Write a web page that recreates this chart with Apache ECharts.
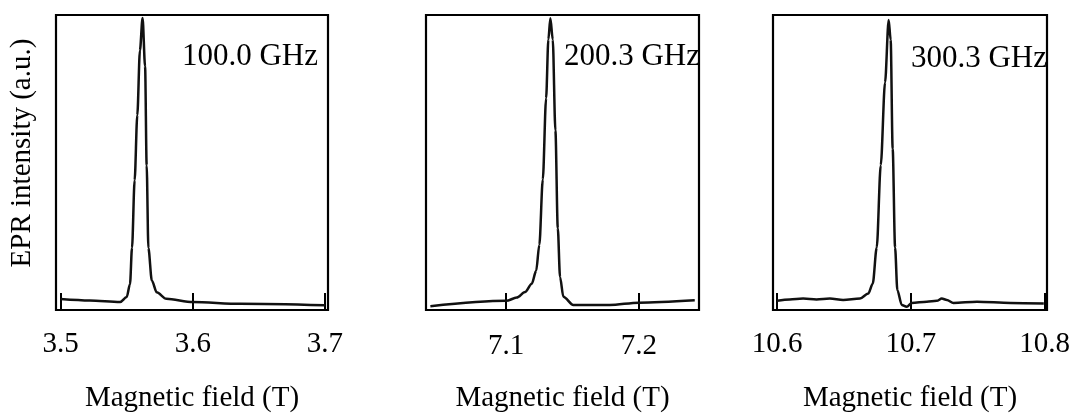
<!DOCTYPE html>
<html>
<head>
<meta charset="utf-8">
<script src="https://cdn.jsdelivr.net/npm/echarts@6/dist/echarts.min.js"></script>
<style>
html,body{margin:0;padding:0;background:#fff;}
#chart{width:1075px;height:418px;}
</style>
</head>
<body>
<div id="chart"></div>
<script>
// ---- Data ----
var field1 = [3.500, 3.522, 3.545, 3.550, 3.5525, 3.554, 3.556, 3.558, 3.560, 3.562, 3.5639, 3.5651, 3.5664, 3.569, 3.5727, 3.580, 3.600, 3.636, 3.700];
var intensity1 = [3.7, 3.2, 2.7, 4.4, 8.8, 21, 44, 66, 88, 99, 82.6, 49, 21, 10, 6, 3.8, 2.7, 2.1, 1.6];

var field2 = [7.0429, 7.100, 7.108, 7.1143, 7.1193, 7.1226, 7.1250, 7.1276, 7.1301, 7.1318, 7.1333, 7.1351, 7.1371, 7.1389, 7.1406, 7.1431, 7.1506, 7.178, 7.200, 7.2421];
var intensity2 = [1.3, 3.1, 4.2, 6.1, 8.9, 13.3, 22.1, 44.2, 71.8, 91.7, 98.9, 91.7, 60.9, 27.7, 11.2, 4.5, 1.7, 1.7, 2.5, 3.3];

var field3 = [10.600, 10.6095, 10.6195, 10.6295, 10.6395, 10.6494, 10.662, 10.6682, 10.6715, 10.6745, 10.6775, 10.6807, 10.6834, 10.6849, 10.6864, 10.6882, 10.6899, 10.6932, 10.6969, 10.7007, 10.7119, 10.7194, 10.7231, 10.7269, 10.7318, 10.7494, 10.7743, 10.7993];
var intensity3 = [3.1, 3.6, 3.9, 3.6, 3.9, 3.4, 3.9, 5.6, 8.9, 21.2, 49.1, 77.1, 98.3, 91.6, 54.7, 21.2, 6.7, 1.7, 1.1, 2.4, 2.8, 3.1, 3.9, 3.4, 2.4, 2.8, 2.4, 2.2];

var ticks1 = [3.5, 3.6, 3.7];
var ticks2 = [7.1, 7.2];
var ticks3 = [10.6, 10.7, 10.8];

var freqLabels = ['100.0 GHz', '200.3 GHz', '300.3 GHz'];
var xTitle = 'Magnetic field (T)';
var yTitle = 'EPR intensity (a.u.)';

// ---- Chart ----
var FONT = 'Liberation Serif';
var chart = echarts.init(document.getElementById('chart'), null, {renderer: 'canvas'});

var grids = [
  {left: 56, top: 15, width: 272, height: 298},
  {left: 426, top: 15, width: 273, height: 302},
  {left: 773, top: 15, width: 274, height: 298}
];
var ranges = [[3.4965, 3.7023], [7.0396, 7.2453], [10.597, 10.8017]];
var tickSets = [ticks1, ticks2, ticks3];
var fields = [field1, field2, field3];
var intensities = [intensity1, intensity2, intensity3];
var nameGaps = [74, 74, 74];
var labelMargins = [20, 22, 20];

function pairs(xs, ys) { return xs.map(function (x, i) { return [x, ys[i]]; }); }

var option = {
  animation: false,
  backgroundColor: '#fff',
  grid: grids.map(function (g) {
    return Object.assign({show: true, borderColor: '#000', borderWidth: 2.2, backgroundColor: 'transparent'}, g);
  }),
  xAxis: grids.map(function (g, i) {
    return {
      type: 'value', gridIndex: i,
      min: ranges[i][0], max: ranges[i][1],
      name: xTitle, nameLocation: 'middle', nameGap: nameGaps[i],
      nameTextStyle: {fontFamily: FONT, fontSize: 29, color: '#000'},
      axisLine: {show: true, lineStyle: {color: '#000', width: 2.2}},
      axisTick: {show: true, inside: true, length: 17, customValues: tickSets[i], lineStyle: {color: '#000', width: 2}},
      axisLabel: {show: true, customValues: tickSets[i], margin: labelMargins[i], fontFamily: FONT, fontSize: 29, color: '#000',
        formatter: function (v) { return v.toFixed(1); }},
      splitLine: {show: false}
    };
  }),
  yAxis: grids.map(function (g, i) {
    return {
      type: 'value', gridIndex: i, min: 0, max: 100,
      axisLine: {show: false}, axisTick: {show: false}, axisLabel: {show: false}, splitLine: {show: false}
    };
  }),
  series: grids.map(function (g, i) {
    return {
      type: 'line', xAxisIndex: i, yAxisIndex: i,
      data: pairs(fields[i], intensities[i]),
      showSymbol: false, smooth: 0.3, smoothMonotone: 'x',
      lineStyle: {color: '#111', width: 2.5}
    };
  }),
  graphic: [
    {type: 'text', x: 22, y: 153, rotation: Math.PI / 2,
      style: {text: yTitle, font: '29px "' + FONT + '"', fill: '#000', align: 'center', verticalAlign: 'middle'}},
    {type: 'text', x: 318, y: 57, style: {text: freqLabels[0], font: '31px "' + FONT + '"', fill: '#000', align: 'right', verticalAlign: 'middle'}},
    {type: 'text', x: 700, y: 57, style: {text: freqLabels[1], font: '31px "' + FONT + '"', fill: '#000', align: 'right', verticalAlign: 'middle'}},
    {type: 'text', x: 1047, y: 59, style: {text: freqLabels[2], font: '31px "' + FONT + '"', fill: '#000', align: 'right', verticalAlign: 'middle'}}
  ]
};
chart.setOption(option);
</script>
</body>
</html>
